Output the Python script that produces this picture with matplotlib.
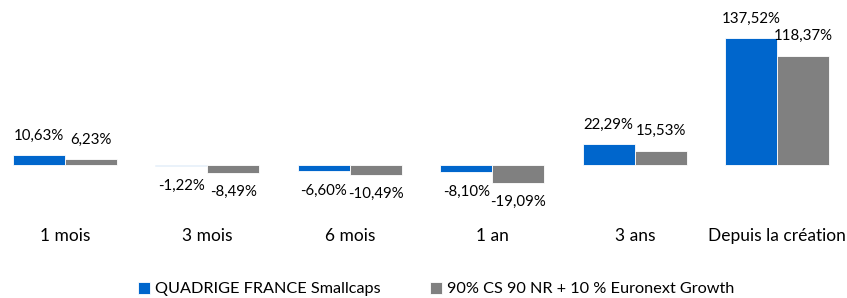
import numpy as np
import matplotlib.pyplot as plt

plt.rcParams['font.family'] = ['Lato', 'DejaVu Sans']

# Performance data
periodes = ['1 mois', '3 mois', '6 mois', '1 an', '3 ans', 'Depuis la création']
fonds = [10.63, -1.22, -6.60, -8.10, 22.29, 137.52]
indice = [6.23, -8.49, -10.49, -19.09, 15.53, 118.37]
nom_fonds = 'QUADRIGE FRANCE Smallcaps'
nom_indice = '90% CS 90 NR + 10 % Euronext Growth'

bleu = '#0066CC'
gris = '#808080'

fig = plt.figure(figsize=(8.47, 2.98), dpi=100)
ax = fig.add_axes([0, 73 / 298, 1, 225 / 298])

x = np.arange(len(periodes))
w = 0.365
b1 = ax.bar(x - w / 2, fonds, w, color=bleu, edgecolor='white', linewidth=0.6, label=nom_fonds)
b2 = ax.bar(x + w / 2, indice, w, color=gris, edgecolor='white', linewidth=0.6, label=nom_indice)


def fmt(v):
    return ('%.2f%%' % v).replace('.', ',')


# value labels, above positive bars, below negative ones
for bars, vals in [(b1, fonds), (b2, indice)]:
    for r, v in zip(bars, vals):
        cx = r.get_x() + r.get_width() / 2
        dy = 14 if v >= 0 else -14
        ax.annotate(fmt(v), (cx, v), xytext=(0, dy), textcoords='offset points',
                    ha='center', va='center', fontsize=10.8)

ax.set_xlim(-0.456, 5.49)
ax.set_ylim(-65, 178.7)
ax.set_xticks(x)
ax.set_xticklabels(periodes, fontsize=12.5)
ax.tick_params(axis='x', length=0, pad=2)
ax.set_yticks([])
for s in ax.spines.values():
    s.set_visible(False)

fig.legend(handles=[b1, b2], loc='center', bbox_to_anchor=(0.515, 9 / 298),
           ncol=2, frameon=False, fontsize=11.7, handlelength=0.75, handleheight=0.75,
           handletextpad=0.3, columnspacing=3.0)

fig.savefig('out.png', dpi=100)
